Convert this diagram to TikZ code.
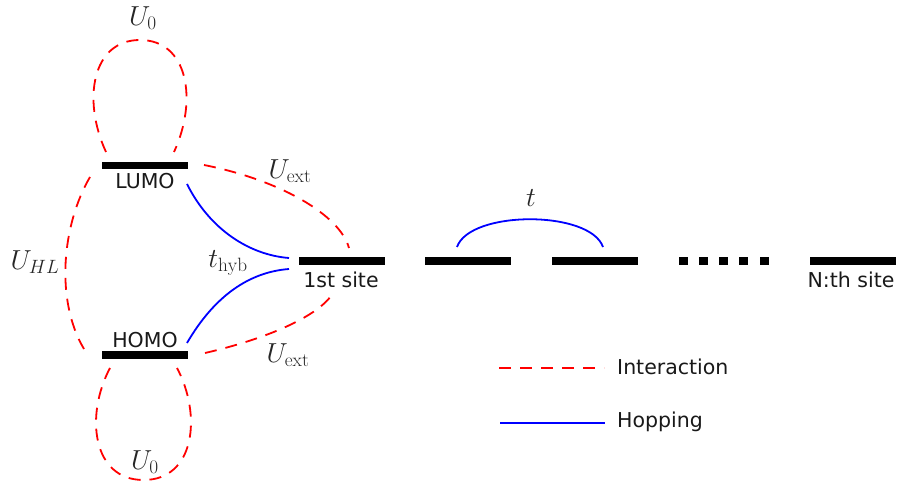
\RequirePackage{fix-cm}
\documentclass[tikz,border=0pt]{standalone}
\usepackage{fontspec}
\newfontfamily\labelfont{DejaVu Sans}
\begin{document}
\begin{tikzpicture}[x=1pt,y=-1pt,
  bar/.style={rectangle,fill=black,inner sep=0pt,minimum width=86pt,minimum height=7.5pt},
  dotsq/.style={rectangle,fill=black,inner sep=0pt,minimum width=9pt,minimum height=7.5pt},
  sitelabel/.style={font=\labelfont\fontsize{20.5}{24}\selectfont,inner sep=0pt,text=black!90},
  mlabel/.style={font=\fontsize{27.5}{30}\selectfont,inner sep=0pt,text=black!85},
  interaction/.style={red,line width=1.8pt,dash pattern=on 12pt off 9pt},
  hopping/.style={blue,line width=1.8pt}]
\useasboundingbox (0,0) rectangle (898,489);
% bars
\node[bar] (lumo) at (145,165.5) {};
\node[bar] (homo) at (145,355) {};
\node[bar] (s1) at (342,261) {};
\node[bar] (s2) at (468,261) {};
\node[bar] (s3) at (595,261) {};
\node[bar] (sN) at (852.5,261) {};
\node[dotsq] (d1) at (683.5,261) {};
\node[dotsq] (d2) at (703.5,261) {};
\node[dotsq] (d3) at (723.5,261) {};
\node[dotsq] (d4) at (743.5,261) {};
\node[dotsq] (d5) at (764.5,261) {};
% text labels
\node[sitelabel] (lumolab) at (145,181) {LUMO};
\node[sitelabel] (homolab) at (145,340) {HOMO};
\node[sitelabel] (s1lab) at (341,280) {1st site};
\node[sitelabel] (sNlab) at (851,280) {N:th site};
% math labels
\node[mlabel] (u0top) at (143,18) {$U_0$};
\node[mlabel] (u0bot) at (145,462) {$U_0$};
\node[mlabel] (uexttop) at (290,171) {$U_{\mathrm{ext}}$};
\node[mlabel] (uextbot) at (288,355) {$U_{\mathrm{ext}}$};
\node[mlabel] (uhl) at (35,262) {$U_{HL}$};
\node[mlabel] (thyb) at (228,263) {$t_{\mathrm{hyb}}$};
\node[mlabel] (tlab) at (531,198) {$t$};
% connector end points near the bars
\coordinate (lumoL) at (106,152);
\coordinate (lumoR) at (174,152);
\coordinate (homoL) at (110,368);
\coordinate (homoR) at (177,368);
\coordinate (uhlA) at (90,177);
\coordinate (uhlB) at (84,349);
\coordinate (uextTa) at (204,165);
\coordinate (uextTb) at (349,248);
\coordinate (uextBa) at (205,353);
\coordinate (uextBb) at (333,293);
\coordinate (hopTa) at (187,184);
\coordinate (hopTb) at (289,258);
\coordinate (hopBa) at (187,343);
\coordinate (hopBb) at (289,269);
\coordinate (tA) at (457,247);
\coordinate (tB) at (603,247);
% interaction loops
\draw[interaction] (lumoL) .. controls (82,100) and (92,40) .. (140,40)
  .. controls (188,40) and (198,100) .. (lumoR);
\draw[interaction] (homoL) .. controls (85,415) and (92,480) .. (143.5,480)
  .. controls (195,480) and (202,415) .. (homoR);
\draw[interaction] (uhlA) .. controls (62,225) and (55,300) .. (uhlB);
\draw[interaction] (uextTa) .. controls (280,180) and (340,215) .. (uextTb);
\draw[interaction] (uextBa) .. controls (270,338) and (320,315) .. (uextBb);
% hopping
\draw[hopping] (hopTa) .. controls (210,230) and (250,255) .. (hopTb);
\draw[hopping] (hopBa) .. controls (215,295) and (250,272) .. (hopBb);
\draw[hopping] (tA) .. controls (470,210) and (590,210) .. (tB);
% legend
\coordinate (li1) at (499,368);
\coordinate (li2) at (604,368);
\coordinate (lh1) at (500,423);
\coordinate (lh2) at (605,423);
\draw[interaction] (li1) -- (li2);
\draw[hopping] (lh1) -- (lh2);
\node[sitelabel,anchor=west] (leg1) at (617,367) {Interaction};
\node[sitelabel,anchor=west] (leg2) at (617,422) {Hopping};
\end{tikzpicture}
\end{document}
